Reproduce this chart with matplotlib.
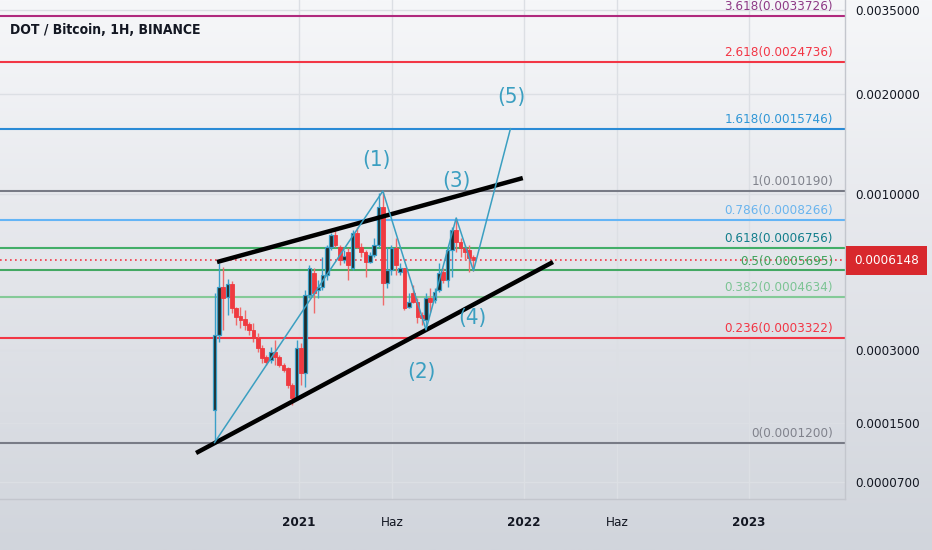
import numpy as np
import matplotlib
matplotlib.use("Agg")
import matplotlib.pyplot as plt
import matplotlib.dates as mdates
from matplotlib.colors import LinearSegmentedColormap
from matplotlib.ticker import NullLocator
from matplotlib.transforms import blended_transform_factory

plt.rcParams['font.family'] = ['DejaVu Sans']
plt.rcParams['font.stretch'] = 'condensed'

# weekly candles (BTC)
first_week = np.datetime64('2020-08-17')
opens = [0.000171, 0.000341, 0.000502, 0.000464, 0.000513, 0.000425, 0.000398, 0.000389, 0.000374, 0.000356,
         0.000333, 0.000305, 0.000282, 0.000275, 0.000295, 0.000282, 0.000263, 0.000256, 0.000220, 0.000194,
         0.000305, 0.000245, 0.000471, 0.000558, 0.000490, 0.000502, 0.000550, 0.000679, 0.000742, 0.000679,
         0.000616, 0.000654, 0.000580, 0.000753, 0.000679, 0.000654, 0.000607, 0.000640, 0.000689, 0.000909,
         0.000516, 0.000571, 0.000674, 0.000563, 0.000580, 0.000428, 0.000478, 0.000446, 0.000401, 0.000386,
         0.000460, 0.000453, 0.000490, 0.000563, 0.000529, 0.000664, 0.000770, 0.000705, 0.000674, 0.000664,
         0.000630]
highs = [0.000478, 0.000602, 0.000584, 0.000533, 0.000525, 0.000428, 0.000428, 0.000418, 0.000380, 0.000377,
         0.000347, 0.000313, 0.000287, 0.000308, 0.000327, 0.000287, 0.000268, 0.000259, 0.000224, 0.000327,
         0.000319, 0.000490, 0.000593, 0.000580, 0.000529, 0.000630, 0.000689, 0.000753, 0.000770, 0.000689,
         0.000664, 0.000674, 0.000770, 0.000787, 0.000700, 0.000664, 0.000654, 0.000726, 0.001005, 0.001019,
         0.000679, 0.000689, 0.000726, 0.000602, 0.000580, 0.000478, 0.000509, 0.000460, 0.000411, 0.000478,
         0.000497, 0.000497, 0.000602, 0.000580, 0.000679, 0.000787, 0.000840, 0.000726, 0.000689, 0.000689,
         0.000640]
lows = [0.000120, 0.000322, 0.000356, 0.000402, 0.000408, 0.000371, 0.000362, 0.000356, 0.000341, 0.000322,
        0.000295, 0.000268, 0.000263, 0.000268, 0.000263, 0.000259, 0.000248, 0.000213, 0.000180, 0.000190,
        0.000220, 0.000215, 0.000460, 0.000408, 0.000460, 0.000490, 0.000529, 0.000664, 0.000679, 0.000593,
        0.000602, 0.000529, 0.000571, 0.000674, 0.000630, 0.000541, 0.000602, 0.000630, 0.000679, 0.000435,
        0.000497, 0.000550, 0.000550, 0.000550, 0.000418, 0.000425, 0.000442, 0.000377, 0.000371, 0.000356,
        0.000411, 0.000442, 0.000482, 0.000516, 0.000502, 0.000541, 0.000654, 0.000630, 0.000616, 0.000563,
        0.000568]
closes = [0.000341, 0.000502, 0.000460, 0.000513, 0.000425, 0.000395, 0.000386, 0.000371, 0.000356, 0.000333,
          0.000305, 0.000280, 0.000270, 0.000295, 0.000282, 0.000263, 0.000252, 0.000220, 0.000194, 0.000305,
          0.000245, 0.000471, 0.000580, 0.000478, 0.000502, 0.000550, 0.000679, 0.000742, 0.000689, 0.000616,
          0.000635, 0.000593, 0.000753, 0.000679, 0.000654, 0.000607, 0.000640, 0.000689, 0.000909, 0.000516,
          0.000571, 0.000674, 0.000593, 0.000580, 0.000425, 0.000446, 0.000446, 0.000395, 0.000392, 0.000460,
          0.000446, 0.000482, 0.000558, 0.000529, 0.000664, 0.000770, 0.000705, 0.000674, 0.000654, 0.000625,
          0.0006148]

fib_ratios = ['3.618', '2.618', '1.618', '1', '0.786', '0.618', '0.5', '0.382', '0.236', '0']
fib_prices = [0.0033726, 0.0024736, 0.0015746, 0.0010190, 0.0008266,
              0.0006756, 0.0005695, 0.0004634, 0.0003322, 0.0001200]
fib_line_colors = ['#b02a7e', '#f23645', '#2a8bd6', '#787b86', '#64b5f6',
                   '#43ae68', '#43a863', '#84ca98', '#f23645', '#787b86']
fib_text_colors = ['#8e3a86', '#f23645', '#2f96d6', '#80828c', '#6ab4ee',
                   '#137e8c', '#3fa35c', '#7cc494', '#f23645', '#80828c']

wave_dates = ['2020-08-17', '2021-05-17', '2021-07-26', '2021-09-13', '2021-10-11', '2021-12-10']
wave_prices = [0.00012, 0.001019, 0.000356, 0.00084, 0.000568, 0.0015746]
wave_labels = ['(1)', '(2)', '(3)', '(4)', '(5)']
wave_label_dates = ['2021-05-06', '2021-07-18', '2021-09-13', '2021-10-10', '2021-12-11']
wave_label_prices = [0.001268, 0.000247, 0.001094, 0.000392, 0.001956]

upper_dates = ['2020-08-21', '2021-12-30']
upper_prices = [0.000607, 0.001117]
lower_dates = ['2020-07-18', '2022-02-17']
lower_prices = [0.0001056, 0.000607]

last_price = 0.0006148
yticks = [0.0035, 0.002, 0.001, 0.0003, 0.00015, 0.00007]
xtick_dates = ['2021-01-01', '2021-06-01', '2022-01-01', '2022-06-01', '2023-01-01']
xtick_labels = ['2021', 'Haz', '2022', 'Haz', '2023']

wave_color = '#3b9fc1'
text_dark = '#131722'
fs = 9.6


def d(s):
    return mdates.date2num(np.array(s, dtype='datetime64[D]'))


fig = plt.figure(figsize=(9.32, 5.5), dpi=100)

# soft vertical gradient behind everything
bg = fig.add_axes([0, 0, 1, 1], zorder=-10)
grad = np.linspace(0, 1, 256).reshape(-1, 1)
cmap = LinearSegmentedColormap.from_list('bg', ['#f6f7f9', '#e3e5ea', '#d1d5dc'])
bg.imshow(grad, aspect='auto', cmap=cmap, extent=[0, 1, 0, 1], origin='upper')
bg.axis('off')

ax = fig.add_axes([0, 51 / 550, 845 / 932, 499 / 550])
ax.set_facecolor('none')

off = 1e-4
ax.set_yscale('function', functions=(lambda p: np.log10(np.maximum(p + off, 1e-9)),
                                     lambda v: 10 ** v - off))
ax.set_ylim(0.0000527, 0.003749)
ax.set_xlim(d('2021-01-01') - 485.05, d('2021-01-01') + 885.7)

# grid
ax.set_axisbelow(True)
ax.grid(True, color='#dcdfe4', lw=1)

# fib levels
trans = blended_transform_factory(ax.transAxes, ax.transData)
for r, p, lc, tc in zip(fib_ratios, fib_prices, fib_line_colors, fib_text_colors):
    ax.axhline(p, color=lc, lw=1.5, zorder=1)
    ax.annotate(f'{r}({p:.7f})', xy=(833 / 845, p), xycoords=trans, xytext=(0, 2),
                textcoords='offset points', ha='right', va='bottom', color=tc, fontsize=fs)

# last price line
ax.axhline(last_price, color='#f23645', lw=1.2, ls=(0, (1, 2)), zorder=2)

# candles
o = np.array(opens)
h = np.array(highs)
l = np.array(lows)
c = np.array(closes)
x = mdates.date2num(first_week + np.arange(len(o)) * np.timedelta64(7, 'D'))
up = c >= o
ax.vlines(x[up], l[up], h[up], color='#3a9fc8', lw=1, zorder=3)
ax.vlines(x[~up], l[~up], h[~up], color='#f06a6a', lw=1, zorder=3)
ax.bar(x[up], c[up] - o[up], bottom=o[up], width=6.0, color='#1f2b2b',
       edgecolor='#3a9fc8', lw=0.9, zorder=4)
ax.bar(x[~up], o[~up] - c[~up], bottom=c[~up], width=6.0, color='#ef3a40',
       edgecolor='#ef3a40', lw=0.6, zorder=4)

# trend channel
ax.plot(d(upper_dates), upper_prices, color='black', lw=3.2, solid_capstyle='butt', zorder=5)
ax.plot(d(lower_dates), lower_prices, color='black', lw=3.2, solid_capstyle='butt', zorder=5)

# elliott waves
ax.plot(d(wave_dates), wave_prices, color=wave_color, lw=1.1, zorder=6)
for lab, wd, wp in zip(wave_labels, wave_label_dates, wave_label_prices):
    ax.text(d(wd), wp, lab, color=wave_color, fontsize=16, ha='center', va='center', zorder=7)

# axes
for s in ['top', 'left']:
    ax.spines[s].set_visible(False)
for s in ['right', 'bottom']:
    ax.spines[s].set_color('#c3c6cd')
    ax.spines[s].set_linewidth(1)

ax.yaxis.tick_right()
ax.set_yticks(yticks)
ax.set_yticklabels([f'{v:.7f}' for v in yticks])
ax.yaxis.set_minor_locator(NullLocator())
ax.tick_params(axis='y', length=0, pad=7.2, labelsize=fs, labelcolor=text_dark)

ax.set_xticks(d(xtick_dates))
ax.set_xticklabels(xtick_labels)
ax.xaxis.set_minor_locator(NullLocator())
ax.tick_params(axis='x', length=0, pad=12.5, labelsize=fs, labelcolor=text_dark)
for t in ax.get_xticklabels():
    if t.get_text() != 'Haz':
        t.set_fontweight('bold')

# current price tag
ax.annotate(f'{last_price:.7f}', xy=(1, last_price), xycoords=trans, xytext=(6.5, 0),
            textcoords='offset points', ha='left', va='center', color='white', fontsize=fs,
            bbox=dict(boxstyle='square,pad=0.62', fc='#d8282d', ec='none'), annotation_clip=False)

fig.text(10 / 932, 1 - 30 / 550, 'DOT / Bitcoin, 1H, BINANCE', fontsize=10,
         fontweight='bold', va='center', color=text_dark)

fig.savefig('out.png', dpi=100)
